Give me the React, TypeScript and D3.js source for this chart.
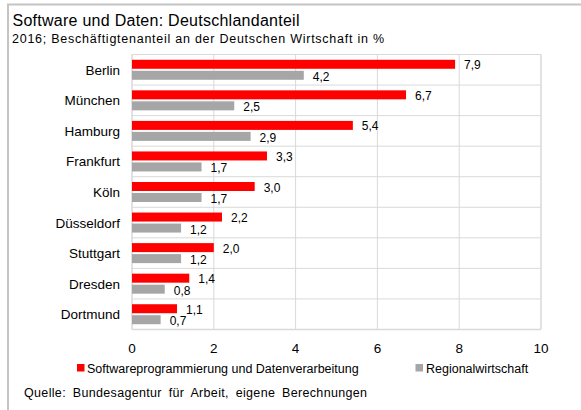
import React from "react";
import * as d3 from "d3";

const categories = ["Berlin", "München", "Hamburg", "Frankfurt", "Köln", "Düsseldorf", "Stuttgart", "Dresden", "Dortmund"];
const softwareValues = [7.9, 6.7, 5.4, 3.3, 3.0, 2.2, 2.0, 1.4, 1.1];
const regionalValues = [4.2, 2.5, 2.9, 1.7, 1.7, 1.2, 1.2, 0.8, 0.7];
const xTicks = [0, 2, 4, 6, 8, 10];
const seriesNames = ["Softwareprogrammierung und Datenverarbeitung", "Regionalwirtschaft"];
const seriesColors = ["#ff0000", "#a6a6a6"];
const title = "Software und Daten: Deutschlandanteil";
const subtitle = "2016; Beschäftigtenanteil an der Deutschen Wirtschaft in %";
const source = "Quelle: Bundesagentur für Arbeit, eigene Berechnungen";

const W = 581;
const H = 410;
const plot = { left: 132, right: 541, top: 54.5, bottom: 329.5 };
const FONT = "Liberation Sans, Arial, Helvetica, sans-serif";
const fmt = (v: number) => v.toFixed(1).replace(".", ",");

export default function App() {
  const x = d3.scaleLinear().domain([0, 10]).range([plot.left, plot.right]);
  const y = d3.scaleBand<string>().domain(categories).range([plot.top, plot.bottom]).padding(0);
  const bw = y.bandwidth();
  const barH = 9;
  const gap = 2;
  const off = (bw - (2 * barH + gap)) / 2;
  const gridColor = "#d9d9d9";

  return (
    <svg width={W} height={H} style={{ position: "absolute", left: 0, top: 0 }} fontFamily={FONT}>
      <rect x={0} y={0} width={W} height={H} fill="#fff" />
      {/* outer frame (top + left) */}
      <line x1={7} x2={W} y1={4.5} y2={4.5} stroke="#c4c4c4" strokeWidth={2} />
      <line x1={8} x2={8} y1={4} y2={H} stroke="#c4c4c4" strokeWidth={2} />

      <text x={12.5} y={26} fontSize={16} fill="#000" textLength={287} lengthAdjust="spacing">{title}</text>
      <text x={12} y={42.5} fontSize={12.5} fill="#000" textLength={372} lengthAdjust="spacing">{subtitle}</text>

      {/* grid */}
      {categories.map((c, i) => (
        <line key={"h" + i} x1={plot.left} x2={plot.right} y1={(y(c) as number)} y2={(y(c) as number)} stroke={gridColor} strokeWidth={1} />
      ))}
      <line x1={plot.left} x2={plot.right} y1={plot.bottom} y2={plot.bottom} stroke={gridColor} strokeWidth={1.5} />
      {xTicks.map((t) => (
        <line key={"v" + t} x1={x(t)} x2={x(t)} y1={plot.top} y2={plot.bottom} stroke={gridColor} strokeWidth={t === 0 || t === 10 ? 1.5 : 1} />
      ))}

      {/* bars */}
      {categories.map((c, i) => {
        const y0 = (y(c) as number) + off;
        const y1 = y0 + barH + gap;
        return (
          <g key={c}>
            <rect x={x(0)} y={y0} width={x(softwareValues[i]) - x(0)} height={barH} fill={seriesColors[0]} />
            <rect x={x(0)} y={y1} width={x(regionalValues[i]) - x(0)} height={barH} fill={seriesColors[1]} />
            <text x={x(softwareValues[i]) + 9} y={y0 + barH + 0.5} fontSize={12} fill="#000">{fmt(softwareValues[i])}</text>
            <text x={x(regionalValues[i]) + 9} y={y1 + barH + 1} fontSize={12} fill="#000">{fmt(regionalValues[i])}</text>
            <text x={120} y={(y(c) as number) + bw / 2 + 5} fontSize={13.5} textAnchor="end" fill="#000">{c}</text>
          </g>
        );
      })}

      {/* x tick labels */}
      {xTicks.map((t) => (
        <text key={"t" + t} x={x(t)} y={352.5} fontSize={13.5} textAnchor="middle" fill="#000">{t}</text>
      ))}

      {/* legend */}
      <rect x={77} y={364} width={7.5} height={7.5} fill={seriesColors[0]} />
      <text x={87} y={373} fontSize={12.5} fill="#000">{seriesNames[0]}</text>
      <rect x={415.5} y={364} width={7.5} height={7.5} fill={seriesColors[1]} />
      <text x={426} y={373} fontSize={12.5} fill="#000">{seriesNames[1]}</text>

      <text x={24} y={397} fontSize={12.5} fill="#000" wordSpacing={3} textLength={343} lengthAdjust="spacing">{source}</text>
    </svg>
  );
}
